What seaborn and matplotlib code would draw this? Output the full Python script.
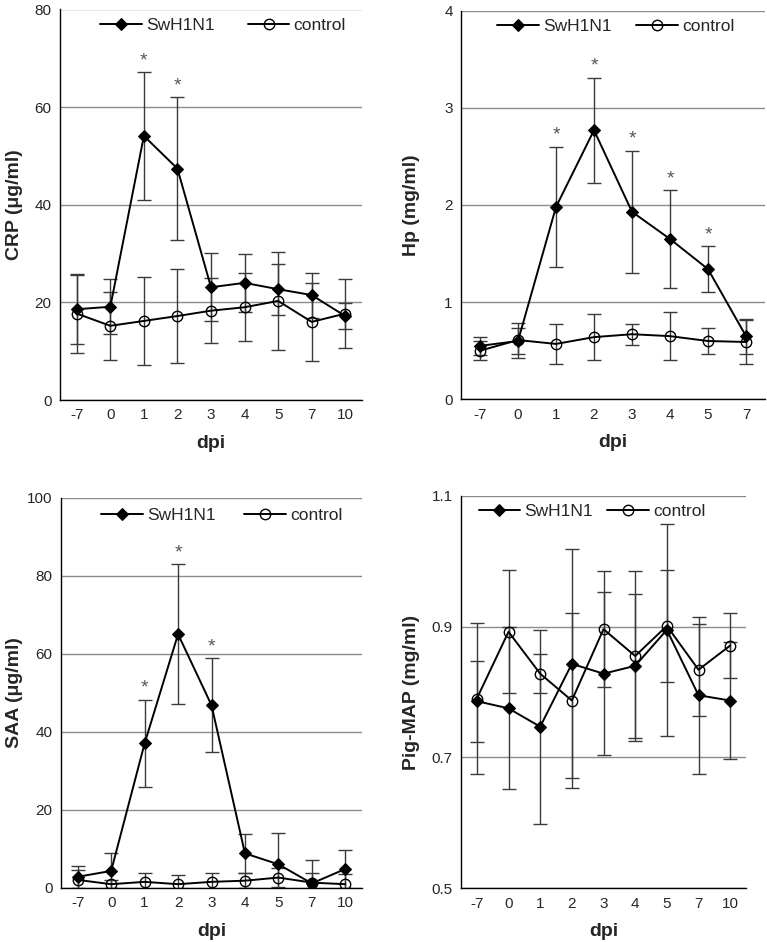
import numpy as np
import matplotlib
matplotlib.use('Agg')
import matplotlib.pyplot as plt
import seaborn as sns

# ---------------- data ----------------
dpi_long = ['-7', '0', '1', '2', '3', '4', '5', '7', '10']
dpi_short = ['-7', '0', '1', '2', '3', '4', '5', '7']

crp_sw = [18.6, 19.1, 54.1, 47.4, 23.1, 24.0, 22.7, 21.5, 17.2]
crp_sw_err = [7.2, 5.6, 13.1, 14.7, 7.0, 6.0, 5.2, 4.6, 2.6]
crp_ctl = [17.7, 15.2, 16.2, 17.2, 18.3, 19.0, 20.3, 16.0, 17.7]
crp_ctl_err = [8.0, 7.0, 9.0, 9.6, 6.6, 7.0, 10.0, 8.0, 7.0]
crp_star = ['1', '2']

hp_sw = [0.55, 0.60, 1.98, 2.77, 1.93, 1.65, 1.34, 0.65]
hp_sw_err = [0.09, 0.13, 0.62, 0.54, 0.63, 0.50, 0.235, 0.18]
hp_ctl = [0.50, 0.61, 0.57, 0.64, 0.67, 0.65, 0.60, 0.59]
hp_ctl_err = [0.10, 0.18, 0.21, 0.24, 0.11, 0.25, 0.13, 0.23]
hp_star = ['1', '2', '3', '4', '5']

saa_sw = [2.8, 4.3, 37.0, 65.0, 46.8, 8.8, 6.0, 1.1, 4.8]
saa_sw_err = [2.8, 4.7, 11.2, 18.0, 12.0, 5.0, 8.0, 6.0, 4.8]
saa_ctl = [2.0, 0.9, 1.5, 0.9, 1.5, 1.8, 2.6, 1.3, 0.9]
saa_ctl_err = [2.5, 1.0, 2.2, 2.3, 2.2, 2.0, 2.5, 2.5, 2.5]
saa_star = ['1', '2', '3']

map_sw = [0.786, 0.775, 0.747, 0.843, 0.828, 0.840, 0.895, 0.795, 0.787]
map_sw_err = [0.062, 0.124, 0.148, 0.175, 0.125, 0.110, 0.162, 0.120, 0.090]
map_ctl = [0.790, 0.892, 0.828, 0.787, 0.896, 0.855, 0.901, 0.834, 0.871]
map_ctl_err = [0.116, 0.094, 0.030, 0.133, 0.089, 0.130, 0.085, 0.070, 0.050]
map_star = []

# ---------------- style ----------------
sns.set_style('white')
plt.rcParams['font.family'] = ['Liberation Sans', 'DejaVu Sans']

W, H = 767, 942
fig = plt.figure(figsize=(W / 100, H / 100), dpi=100)


def make_axes(left, top, right, bottom):
    return fig.add_axes([left / W, 1 - bottom / H, (right - left) / W, (bottom - top) / H])


def panel(ax, cats, sw, sw_err, ctl, ctl_err, stars, ylim, yticks, yticklabels,
          ylabel, ylab_x, leg_x, leg_y, colsp):
    pos = np.arange(len(cats))
    for y in yticks:
        ax.axhline(y, color='#8c8c8c', lw=1.0, zorder=0)

    ax.errorbar(pos, sw, yerr=sw_err, fmt='none', ecolor='#3a3a3a',
                elinewidth=1.0, capsize=5, capthick=1.0, zorder=2)
    ax.errorbar(pos, ctl, yerr=ctl_err, fmt='none', ecolor='#3a3a3a',
                elinewidth=1.0, capsize=5, capthick=1.0, zorder=2)

    sns.lineplot(x=pos, y=sw, ax=ax, color='black', lw=1.4, marker='D',
                 markersize=6, markerfacecolor='black', markeredgecolor='black',
                 label='SwH1N1', zorder=3)
    sns.lineplot(x=pos, y=ctl, ax=ax, color='black', lw=1.4, marker='o',
                 markersize=7.5, markerfacecolor='none', markeredgecolor='black',
                 markeredgewidth=1.0, label='control', zorder=3)

    for s in stars:
        i = cats.index(s)
        ax.annotate('*', xy=(pos[i], sw[i] + sw_err[i]), xytext=(0, 2),
                    textcoords='offset points', ha='center', va='bottom',
                    fontsize=14, color='#555555')

    ax.set_xlim(-0.5, len(cats) - 0.5)
    ax.set_ylim(*ylim)
    ax.set_xticks(pos)
    ax.set_xticklabels(cats)
    ax.set_yticks(yticks)
    ax.set_yticklabels(yticklabels)
    ax.tick_params(axis='both', length=0, labelsize=11, pad=6)
    ax.set_xlabel('dpi', fontsize=14, fontweight='bold', labelpad=9)
    ax.set_ylabel(ylabel, fontsize=14, fontweight='bold')
    ax.yaxis.set_label_coords(ylab_x, 0.5)

    for side in ['top', 'right']:
        ax.spines[side].set_visible(False)
    for side in ['left', 'bottom']:
        ax.spines[side].set_color('black')
        ax.spines[side].set_linewidth(1.0)

    leg = ax.legend(loc='center', bbox_to_anchor=(leg_x, leg_y), ncol=2,
                    frameon=False, fontsize=12.5, handlelength=2.4,
                    columnspacing=colsp, handletextpad=0.25)
    return leg


ax1 = make_axes(60, 9.5, 362, 400)
panel(ax1, dpi_long, crp_sw, crp_sw_err, crp_ctl, crp_ctl_err, crp_star,
      (0, 80), [0, 20, 40, 60, 80], ['0', '20', '40', '60', '80'],
      'CRP (μg/ml)', -0.122, 0.54, 0.958, 1.9)

ax2 = make_axes(461, 10.7, 765, 399.3)
panel(ax2, dpi_short, hp_sw, hp_sw_err, hp_ctl, hp_ctl_err, hp_star,
      (0, 4), [0, 1, 2, 3, 4], ['0', '1', '2', '3', '4'],
      'Hp (mg/ml)', -0.135, 0.51, 0.96, 1.4)

ax3 = make_axes(61, 497.7, 362, 887.7)
panel(ax3, dpi_long, saa_sw, saa_sw_err, saa_ctl, saa_ctl_err, saa_star,
      (0, 100), [0, 20, 40, 60, 80, 100], ['0', '20', '40', '60', '80', '100'],
      'SAA (μg/ml)', -0.126, 0.535, 0.955, 1.65)

ax4 = make_axes(461, 495.7, 746, 888.3)
panel(ax4, dpi_long, map_sw, map_sw_err, map_ctl, map_ctl_err, map_star,
      (0.5, 1.1), [0.5, 0.7, 0.9, 1.1], ['0.5', '0.7', '0.9', '1.1'],
      'Pig-MAP (mg/ml)', -0.143, 0.46, 0.96, 0.8)

fig.savefig('out.png', dpi=100)
